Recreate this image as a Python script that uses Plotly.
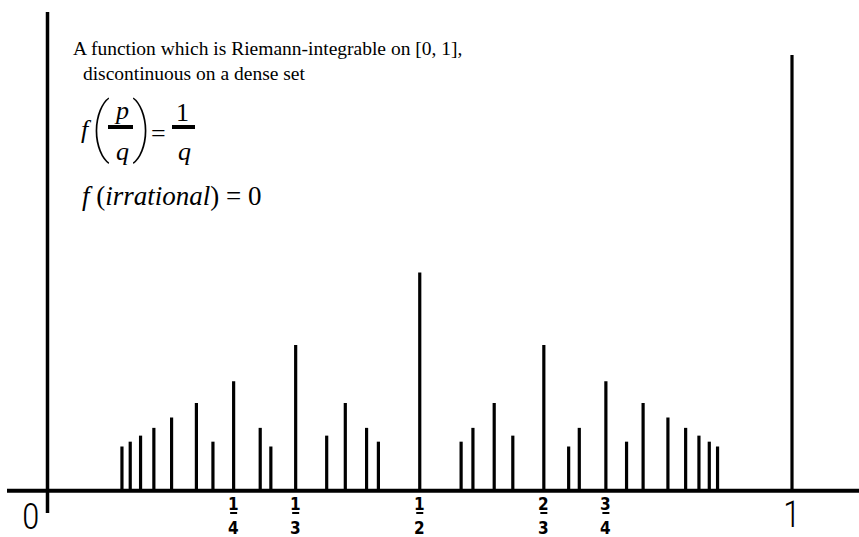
import plotly.graph_objects as go

# Thomae's function sampled on rationals p/q with q <= 10
positions = [1/10, 1/9, 1/8, 1/7, 1/6, 1/5, 2/9, 1/4, 2/7, 3/10, 1/3, 3/8, 2/5, 3/7, 4/9,
             1/2, 5/9, 4/7, 3/5, 5/8, 2/3, 7/10, 5/7, 3/4, 7/9, 4/5, 5/6, 6/7, 7/8, 8/9, 9/10, 1]
heights = [1/10, 1/9, 1/8, 1/7, 1/6, 1/5, 1/9, 1/4, 1/7, 1/10, 1/3, 1/8, 1/5, 1/7, 1/9,
           1/2, 1/9, 1/7, 1/5, 1/8, 1/3, 1/10, 1/7, 1/4, 1/9, 1/5, 1/6, 1/7, 1/8, 1/9, 1/10, 1]

# labelled ticks under the axis: (value, numerator, denominator)
tick_vals = [1/4, 1/3, 1/2, 2/3, 3/4]
tick_num = ["1", "1", "1", "2", "3"]
tick_den = ["4", "3", "2", "3", "4"]

W, H = 859, 537
X0, XS = 47.5, 744.5   # pixel of x=0, pixels per unit
Y0, YS = 490.0, 435.0  # pixel of y=0, pixels per unit


def px(p):
    return p / W


def py(p):
    return 1 - p / H


xs, ys = [], []
for xv, hv in zip(positions, heights):
    xs += [xv, xv, None]
    ys += [0, hv, None]

fig = go.Figure()
fig.add_trace(go.Scatter(x=xs, y=ys, mode="lines",
                         line=dict(color="black", width=3.2),
                         hoverinfo="skip", showlegend=False))

shapes = [
    # horizontal axis
    dict(type="line", xref="x", yref="y", x0=(7 - X0) / XS, x1=(W - X0) / XS,
         y0=-0.002, y1=-0.002, line=dict(color="black", width=4)),
    # vertical axis
    dict(type="line", xref="x", yref="y", x0=0, x1=0,
         y0=(Y0 - 12) / YS, y1=(Y0 - 513) / YS, line=dict(color="black", width=3.5)),
]

annotations = []
cond = "DejaVu Sans Condensed, Roboto Condensed, DejaVu Sans"
tick_font = dict(family=cond, size=17, color="black", weight="bold")
for v, n, d in zip(tick_vals, tick_num, tick_den):
    annotations.append(dict(x=v, y=py(504), xref="x", yref="paper", text=n,
                            showarrow=False, font=tick_font, xanchor="center", yanchor="middle"))
    annotations.append(dict(x=v, y=py(528), xref="x", yref="paper", text=d,
                            showarrow=False, font=tick_font, xanchor="center", yanchor="middle"))
    shapes.append(dict(type="line", xref="x", yref="paper", x0=v - 3.5 / XS, x1=v + 3.5 / XS,
                       y0=py(513), y1=py(513), line=dict(color="black", width=2)))

big_font = dict(family="Roboto Condensed, Roboto", size=36, color="black", weight=300)
annotations.append(dict(x=px(31), y=0, xref="paper", yref="paper", text="0",
                        showarrow=False, font=big_font, xanchor="center", yanchor="bottom",
                        yshift=-3))
annotations.append(dict(x=1, y=0, xref="x", yref="paper", text="1",
                        showarrow=False, font=big_font, xanchor="center", yanchor="bottom",
                        yshift=-1))

serif = "Times New Roman, Liberation Serif, serif"
txt = dict(family=serif, size=19.5, color="black")
annotations.append(dict(x=px(71), y=py(49), xref="paper", yref="paper",
                        text="A function which is Riemann-integrable on [0, 1],",
                        showarrow=False, font=txt, xanchor="left", yanchor="middle"))
annotations.append(dict(x=px(76), y=py(74), xref="paper", yref="paper",
                        text=" discontinuous on a dense set",
                        showarrow=False, font=txt, xanchor="left", yanchor="middle"))

# f(p/q) = 1/q
math_font = dict(family=serif, size=26, color="black")
paren_font = dict(family="Roboto", size=64, color="black", weight=100)


def put(x, y, text, font, anchor="center"):
    annotations.append(dict(x=px(x), y=py(y), xref="paper", yref="paper", text=text,
                            showarrow=False, font=font, xanchor=anchor, yanchor="middle"))


put(86, 130, "<i>f</i>", math_font)
put(100, 128, "(", paren_font)
put(141, 128, ")", paren_font)
put(121, 110, "<i>p</i>", math_font)
put(122, 151, "<i>q</i>", math_font)
put(158, 133, "=", math_font)
put(182, 112, "1", math_font)
put(184, 151, "<i>q</i>", math_font)
shapes.append(dict(type="line", xref="paper", yref="paper", x0=px(108), x1=px(133),
                   y0=py(127), y1=py(127), line=dict(color="black", width=4)))
shapes.append(dict(type="line", xref="paper", yref="paper", x0=px(172), x1=px(195),
                   y0=py(127), y1=py(127), line=dict(color="black", width=4)))

put(80, 196, "<i>f</i> (<i>irrational</i>) = 0", dict(math_font, size=27), anchor="left")

fig.update_layout(
    width=W, height=H,
    margin=dict(l=0, r=0, t=0, b=0),
    paper_bgcolor="white", plot_bgcolor="white",
    xaxis=dict(range=[-X0 / XS, (W - X0) / XS], visible=False, fixedrange=True),
    yaxis=dict(range=[(Y0 - H) / YS, Y0 / YS], visible=False, fixedrange=True),
    shapes=shapes, annotations=annotations,
)

fig.write_html("out.html")
